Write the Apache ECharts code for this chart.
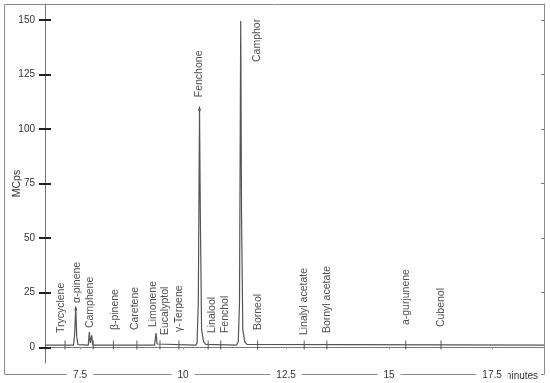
<!DOCTYPE html>
<html>
<head>
<meta charset="utf-8">
<script src="https://cdn.jsdelivr.net/npm/echarts@6/dist/echarts.min.js"></script>
<style>
  html, body { margin: 0; padding: 0; background: #fff; }
  #chart { width: 550px; height: 383px; }
</style>
</head>
<body>
<div id="chart"></div>
<script>
// axis ticks
var timeTicks = [7.5, 10, 12.5, 15, 17.5];
var signalTicks = [0, 25, 50, 75, 100, 125, 150];

// chromatogram trace (minutes, MCps)
var traceTime = [6.65, 7.34, 7.37, 7.396, 7.42, 7.45, 7.70, 7.726, 7.75, 7.784, 7.81,
                 9.31, 9.345, 9.37, 9.40, 10.31, 10.34, 10.37, 10.40, 10.42, 10.45, 10.50, 10.55,
                 11.30, 11.34, 11.37, 11.40, 11.42, 11.45, 11.50, 11.55, 18.76];
var traceSignal = [1, 1, 6, 18.5, 5, 1.2, 1, 7, 2, 5.5, 1,
                   1, 6.5, 1.5, 1, 1, 2, 20, 110, 60, 8, 2.5, 1.3,
                   1, 2.5, 20, 149.5, 60, 8, 2.5, 1.3, 1];

// identified compounds
var compounds = ['Trycyclene', 'α-pinene', 'Camphene', 'β-pinene', 'Caretene', 'Limonene',
                 'Eucalyptol', 'γ-Terpene', 'Fenchone', 'Linalool', 'Fenchol', 'Camphor',
                 'Borneol', 'Linalyl acetate', 'Bornyl acetate', 'a-gurjunene', 'Cubenol'];
var retention = [7.136, 7.396, 7.82, 8.31, 8.88, 9.345, 9.44, 9.90, 10.40, 10.61, 10.915, 11.40,
                 11.81, 12.94, 13.49, 15.405, 16.26];
var markerSignal = [1, 18.5, 1, 1, 1, 6.5, 1, 1, 110, 1, 1, 149.5, 1, 1, 1, 1, 1];

// label placement (px from the marker: text centre x, text start y)
var labelNudge = {
    'Trycyclene': [-4, -12], 'α-pinene': [1, -4], 'Camphene': [-3, -17], 'β-pinene': [2, -15],
    'Caretene': [-2, -15], 'Limonene': [-3, -6], 'Eucalyptol': [5, -10], 'γ-Terpene': [0, -13],
    'Fenchone': [0, -10], 'Linalool': [4, -12], 'Fenchol': [4, -12], 'Camphor': [16, 41],
    'Borneol': [0, -15], 'Linalyl acetate': [0, -10], 'Bornyl acetate': [0, -12],
    'a-gurjunene': [0, -20], 'Cubenol': [0, -18]
};
var noMarker = ['Limonene', 'Camphor'];
var arrowMarker = ['α-pinene', 'Fenchone'];

var font = 'Liberation Sans, Arial, sans-serif';
var myChart = echarts.init(document.getElementById('chart'));

var trace = traceTime.map(function (t, i) { return [t, traceSignal[i]]; });

var markers = [];
var labels = [];
compounds.forEach(function (name, i) {
    if (noMarker.indexOf(name) < 0) {
        var arrow = arrowMarker.indexOf(name) >= 0;
        markers.push({
            value: [retention[i], markerSignal[i]],
            symbol: arrow ? 'triangle' : 'rect',
            symbolSize: arrow ? [3, 5] : [1, 9],
            symbolOffset: arrow ? [0, 1] : [0, 0]
        });
    }
    var n = labelNudge[name];
    labels.push({
        name: name,
        value: [retention[i], markerSignal[i]],
        label: { position: [0.5 + n[0], 0.5 + n[1]] }
    });
});

var option = {
    animation: false,
    textStyle: { fontFamily: font },
    grid: { left: 45, right: 6, top: 4, bottom: 20, outerBoundsMode: 'none', containLabel: false },
    xAxis: {
        type: 'value',
        min: 6.65,
        max: 18.76,
        axisLine: { lineStyle: { color: '#777', width: 1 } },
        axisTick: { customValues: timeTicks, length: 2, lineStyle: { color: '#999' } },
        axisLabel: {
            customValues: timeTicks,
            margin: 7,
            fontSize: 10,
            color: '#333',
            backgroundColor: '#fff',
            padding: [0, 6],
            formatter: function (v) { return String(v); }
        },
        splitLine: { show: false }
    },
    yAxis: [{
        type: 'value',
        position: 'left',
        min: -7.2,
        max: 157.3,
        name: 'MCps',
        nameLocation: 'middle',
        nameGap: 22,
        nameMoveOverlap: false,
        nameTextStyle: { fontSize: 10.5, color: '#333' },
        axisLine: { show: true, lineStyle: { color: '#777' } },
        axisTick: { customValues: signalTicks, length: 6, lineStyle: { color: '#222', width: 2 } },
        axisLabel: { customValues: signalTicks, margin: 10, fontSize: 10, color: '#333' },
        splitLine: { show: false }
    }, {
        type: 'value',
        position: 'left',
        min: -7.2,
        max: 157.3,
        axisLine: { show: false },
        axisTick: { inside: true, customValues: signalTicks, length: 6, lineStyle: { color: '#222', width: 2 } },
        axisLabel: { show: false },
        splitLine: { show: false }
    }, {
        type: 'value',
        position: 'right',
        min: -7.2,
        max: 157.3,
        axisLine: { show: true, lineStyle: { color: '#8a8a8a' } },
        axisTick: { inside: true, customValues: signalTicks, length: 3, lineStyle: { color: '#777' } },
        axisLabel: { show: false },
        splitLine: { show: false }
    }],
    series: [{
        type: 'line',
        data: trace,
        showSymbol: false,
        lineStyle: { color: '#555', width: 1.2 },
        silent: true
    }, {
        type: 'scatter',
        data: markers,
        itemStyle: { color: '#333' },
        silent: true
    }, {
        type: 'scatter',
        data: labels,
        symbolSize: 1,
        itemStyle: { color: 'rgba(0,0,0,0)' },
        label: {
            show: true,
            formatter: '{b}',
            rotate: 90,
            align: 'left',
            verticalAlign: 'middle',
            fontSize: 10.5,
            color: '#222'
        },
        silent: true
    }]
};

myChart.setOption(option);

// outer frame and the unit text next to the last time label
var lastTickX = myChart.convertToPixel({ xAxisIndex: 0 }, timeTicks[timeTicks.length - 1]);
myChart.setOption({
    graphic: [{
        type: 'rect',
        z: -10,
        silent: true,
        shape: { x: 4.5, y: 4.5, width: 540, height: 370 },
        style: { fill: null, stroke: '#8a8a8a', lineWidth: 1 }
    }, {
        type: 'text',
        silent: true,
        x: lastTickX + 8,
        y: 376,
        style: {
            text: 'minutes',
            font: '10px ' + font,
            fill: '#333',
            verticalAlign: 'middle',
            backgroundColor: '#fff',
            padding: [0, 3]
        }
    }]
});
</script>
</body>
</html>
